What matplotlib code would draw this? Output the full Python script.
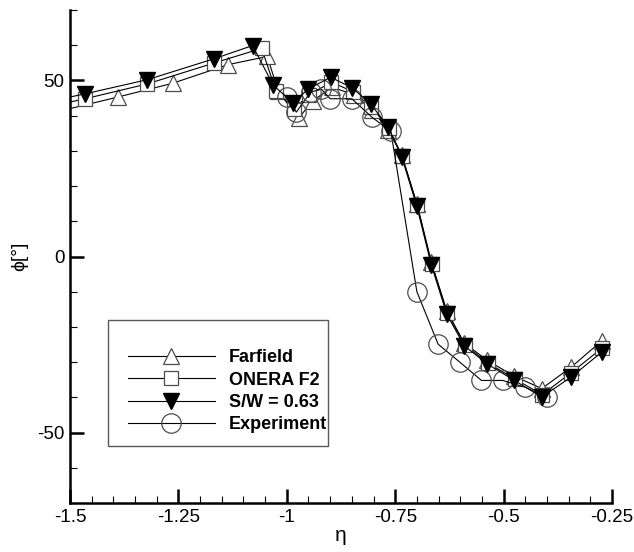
import matplotlib
matplotlib.use('Agg')
import matplotlib.pyplot as plt
from matplotlib.patches import Rectangle
from matplotlib.ticker import MultipleLocator

plt.rcParams['font.family'] = ['Liberation Sans', 'DejaVu Sans']

# datos
far_eta = [-1.55, -1.389, -1.263, -1.135, -1.045, -1.02, -0.973, -0.94, -0.895, -0.845, -0.803,
           -0.766, -0.735, -0.700, -0.667, -0.631, -0.591, -0.538, -0.475, -0.412, -0.345, -0.274]
far_phi = [40.5, 45.3, 49.2, 54.5, 56.8, 47.0, 39.2, 44.3, 48.0, 46.0, 41.5,
           36.0, 28.8, 15.0, -1.5, -15.5, -24.5, -29.5, -34.0, -37.5, -31.5, -24.0]

onera_eta = [-1.55, -1.465, -1.322, -1.169, -1.058, -1.025, -0.983, -0.948, -0.897, -0.847, -0.805,
             -0.765, -0.734, -0.699, -0.666, -0.630, -0.590, -0.537, -0.474, -0.411, -0.344, -0.273]
onera_phi = [42.5, 44.8, 49.0, 54.9, 59.1, 47.0, 42.0, 46.0, 49.5, 46.8, 42.5,
             36.5, 28.5, 14.5, -2.0, -16.0, -25.0, -30.2, -34.8, -39.2, -33.0, -26.0]

sw_eta = [-1.55, -1.465, -1.322, -1.169, -1.079, -1.031, -0.986, -0.950, -0.899, -0.849, -0.806,
          -0.766, -0.735, -0.700, -0.667, -0.631, -0.591, -0.538, -0.475, -0.412, -0.345, -0.274]
sw_phi = [44.0, 46.2, 50.2, 56.1, 59.9, 48.6, 43.7, 47.6, 50.9, 47.9, 43.2,
          36.8, 28.3, 14.2, -2.3, -16.4, -25.3, -30.5, -35.2, -39.9, -34.3, -27.2]

exp_eta = [-1.0, -0.978, -0.945, -0.92, -0.9, -0.85, -0.804, -0.76, -0.70, -0.651, -0.601,
           -0.551, -0.502, -0.451, -0.401]
exp_phi = [45.3, 41.0, 46.7, 47.5, 44.8, 44.8, 39.6, 35.5, -10.0, -24.9, -30.0,
           -35.2, -35.2, -37.1, -39.9]

fig = plt.figure(figsize=(6.34, 5.52), dpi=100)
ax = fig.add_axes([70/634, 1-503/552, 542/634, 493/552])

ec = '0.3'
ax.plot(far_eta, far_phi, color='k', lw=0.8, marker='^', ms=11, mfc='white', mec=ec, mew=0.9,
        label='Farfield', zorder=3)
ax.plot(onera_eta, onera_phi, color='k', lw=0.8, marker='s', ms=10, mfc='white', mec=ec, mew=0.9,
        label='ONERA F2', zorder=3)
ax.plot(exp_eta, exp_phi, color='k', lw=0.8, marker='o', ms=14, mfc='none', mec=ec, mew=0.9,
        label='Experiment', zorder=4)
ax.plot(sw_eta, sw_phi, color='k', lw=0.8, marker='v', ms=11, mfc='k', mec='k',
        label='S/W = 0.63', zorder=5)

ax.set_xlim(-1.5, -0.25)
ax.set_ylim(-70, 70)
ax.xaxis.set_major_locator(MultipleLocator(0.25))
ax.xaxis.set_minor_locator(MultipleLocator(0.05))
ax.yaxis.set_major_locator(MultipleLocator(50))
ax.yaxis.set_minor_locator(MultipleLocator(10))
ax.set_xticks([-1.5, -1.25, -1, -0.75, -0.5, -0.25])
ax.set_xticklabels(['-1.5', '-1.25', '-1', '-0.75', '-0.5', '-0.25'])
ax.set_yticks([-50, 0, 50])
ax.set_yticklabels(['-50', '0', '50'])
ax.tick_params(which='major', direction='in', length=10, width=1.8, labelsize=13.5, pad=4)
ax.tick_params(which='minor', direction='in', length=5, width=0.8)
for s in ['top', 'right']:
    ax.spines[s].set_visible(False)
for s in ['left', 'bottom']:
    ax.spines[s].set_linewidth(1.8)

ax.set_xlabel('η', fontsize=15, labelpad=0)
ax.set_ylabel('ϕ[°]', fontsize=14, labelpad=6)

# cuadro de la leyenda
ax.add_patch(Rectangle((0.070, 0.116), 0.406, 0.256, transform=ax.transAxes, fill=False,
                       edgecolor='0.35', lw=1, zorder=6))
h, l = ax.get_legend_handles_labels()
order = [0, 1, 3, 2]
leg = ax.legend([h[i] for i in order], [l[i] for i in order], loc='upper left',
                bbox_to_anchor=(0.107, 0.312), frameon=False, borderpad=0, borderaxespad=0,
                handlelength=4.8, handletextpad=0.8, labelspacing=0.3,
                prop={'weight': 'bold', 'size': 13})
leg.set_zorder(7)

plt.savefig('out.png', dpi=100)
